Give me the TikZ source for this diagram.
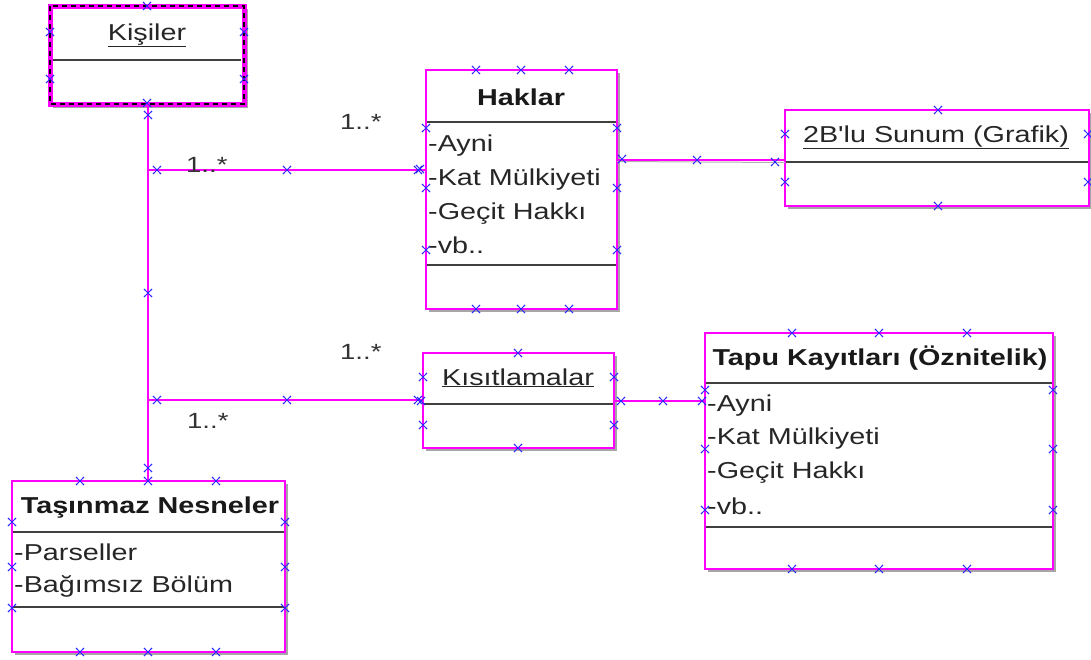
\documentclass[tikz,border=0pt]{standalone}
\usepackage{fontspec}
\usetikzlibrary{calc}
\setmainfont{Liberation Sans}[FakeStretch=1.25,Ligatures=TeXOff]
\definecolor{mag}{RGB}{255,0,255}
\definecolor{hblue}{RGB}{40,40,255}
\begin{document}
\begin{tikzpicture}[x=1pt,y=-1pt,
  box/.style={draw=mag,line width=1.8pt,rectangle,inner sep=0pt,outer sep=0pt,anchor=north west},
  conn/.style={mag,line width=1.6pt},
  divl/.style={draw=black!75,line width=2pt},
  shad/.style={draw=black!35,line width=1.5pt},
  mkst/.style={hblue,line width=0.9pt},
  ttl/.style={anchor=base,inner sep=0pt,font=\fontsize{23}{28}\selectfont\bfseries,text=black!90},
  utl/.style={anchor=base,inner sep=0pt,font=\fontsize{23}{28}\selectfont,text=black!85},
  attr/.style={anchor=base west,inner sep=0pt,font=\fontsize{23}{28}\selectfont,text=black!85},
  mult/.style={anchor=base west,inner sep=0pt,font=\fontsize{22}{26}\selectfont,text=black!80}]
\newcommand\mk[2]{\draw[mkst,shift={(#1,#2)}] (-3.5,-3.5)--(3.5,3.5) (-3.5,3.5)--(3.5,-3.5);
  \fill[hblue,shift={(#1,#2)}] (-3.5,-3.5) circle (0.9) (3.5,3.5) circle (0.9) (-3.5,3.5) circle (0.9) (3.5,-3.5) circle (0.9);}
\useasboundingbox (0,0) rectangle (1091,659);
\fill[white] (0,0) rectangle (1091,659);

% shadows
\draw[shad] (247,9) -- (247,107) -- (53,107);
\draw[shad] (619,73) -- (619,311) -- (429,311);
\draw[shad] (1091,113) -- (1091,208) -- (788,208);
\draw[shad] (616,356) -- (616,450) -- (426,450);
\draw[shad] (1055,336) -- (1055,571) -- (708,571);
\draw[shad] (287,484) -- (287,654) -- (15,654);

% boxes
\node[box,draw=none,minimum width=194pt,minimum height=98pt] (kisiler) at (50,6) {};
\draw[mag,line width=5pt] (kisiler.north west) rectangle (kisiler.south east);
\draw[black,line width=1.6pt,dash pattern=on 5pt off 4pt] (kisiler.north west) rectangle (kisiler.south east);
\draw[divl] (53,60) -- (241,60);

\node[box,minimum width=191pt,minimum height=239pt] (haklar) at (426,70) {};
\draw[divl] (427,122) -- (616,122);
\draw[divl] (427,265) -- (616,265);

\node[box,minimum width=304pt,minimum height=96pt] (grafik) at (785,110) {};
\draw[divl] (786,162) -- (1088,162);

\node[box,minimum width=191pt,minimum height=95pt] (kisit) at (423,353) {};
\draw[divl] (424,404) -- (613,404);

\node[box,minimum width=348pt,minimum height=236pt] (tapu) at (705,333) {};
\draw[divl] (706,383) -- (1052,383);
\draw[divl] (706,527) -- (1052,527);

\node[box,minimum width=273pt,minimum height=171pt] (tasinmaz) at (12,481) {};
\draw[divl] (13,532) -- (284,532);
\draw[divl] (13,607) -- (284,607);

% texts
\node[utl] (tk) at (147,40) {\underline{Kişiler}};
\node[ttl] (th) at (521,105) {Haklar};
\node[attr] (h1) at (428,151) {-Ayni};
\node[attr] (h2) at (428,185) {-Kat Mülkiyeti};
\node[attr] (h3) at (428,219) {-Geçit Hakkı};
\node[attr] (h4) at (428,253) {-vb..};
\node[utl] (tg) at (936,142) {\underline{2B'lu Sunum (Grafik)}};
\node[utl] (tks) at (518,385) {\underline{Kısıtlamalar}};
\node[ttl] (tt) at (880,365) {Tapu Kayıtları (Öznitelik)};
\node[attr] (t1) at (707,411) {-Ayni};
\node[attr] (t2) at (707,444) {-Kat Mülkiyeti};
\node[attr] (t3) at (707,478) {-Geçit Hakkı};
\node[attr] (t4) at (707,514) {-vb..};
\node[ttl] (tn) at (150,513) {Taşınmaz Nesneler};
\node[attr] (n1) at (14,560) {-Parseller};
\node[attr] (n2) at (14,592) {-Bağımsız Bölüm};

% connectors
\coordinate (top) at (148,104);
\coordinate (j1) at (148,170);
\coordinate (j2) at (148,400);
\coordinate (hr) at (617,160);
\coordinate (kr) at (614,401);
\draw[conn] (top) -- (top |- tasinmaz.north);
\draw[conn] (j1) -- (j1 -| haklar.west);
\draw[conn] (j2) -- (j2 -| kisit.west);
\draw[black!30,line width=1pt] ($(hr)+(0,1.5)$) -- ($(hr -| grafik.west)+(0,2.5)$);
\draw[conn] (hr) -- (hr -| grafik.west);
\draw[conn] (kr) -- (kr -| tapu.west);

% multiplicities
\node[mult] (m1) at (186,172) {1..*};
\node[mult] (m2) at (340,129) {1..*};
\node[mult] (m3) at (340,359) {1..*};
\node[mult] (m4) at (187,428) {1..*};

% markers
\mk{147}{6}\mk{50}{32}\mk{50}{79}\mk{244}{32}\mk{244}{79}\mk{147}{103}
\mk{148}{115}\mk{148}{293}\mk{148}{468}
\mk{157}{170}\mk{287}{170}\mk{418}{170}
\mk{157}{400}\mk{287}{400}\mk{418}{400}
\mk{476}{70}\mk{521}{70}\mk{569}{70}\mk{476}{309}\mk{521}{309}\mk{569}{309}
\mk{426}{128}\mk{426}{188}\mk{426}{250}\mk{617}{128}\mk{617}{188}\mk{617}{250}
\mk{420}{169}\mk{622}{159}\mk{697}{160}\mk{775}{162}
\mk{938}{110}\mk{938}{206}\mk{785}{134}\mk{785}{182}\mk{1088}{134}\mk{1088}{182}
\mk{518}{353}\mk{518}{448}\mk{423}{377}\mk{423}{425}\mk{614}{377}\mk{614}{425}
\mk{421}{401}\mk{621}{401}\mk{663}{401}\mk{702}{401}
\mk{792}{333}\mk{879}{333}\mk{967}{333}\mk{792}{569}\mk{879}{569}\mk{967}{569}
\mk{705}{390}\mk{705}{449}\mk{705}{510}\mk{1053}{390}\mk{1053}{449}\mk{1053}{510}
\mk{80}{481}\mk{148}{481}\mk{216}{481}\mk{80}{652}\mk{148}{652}\mk{216}{652}
\mk{12}{522}\mk{12}{567}\mk{12}{608}\mk{285}{522}\mk{285}{567}\mk{285}{608}
\end{tikzpicture}
\end{document}
